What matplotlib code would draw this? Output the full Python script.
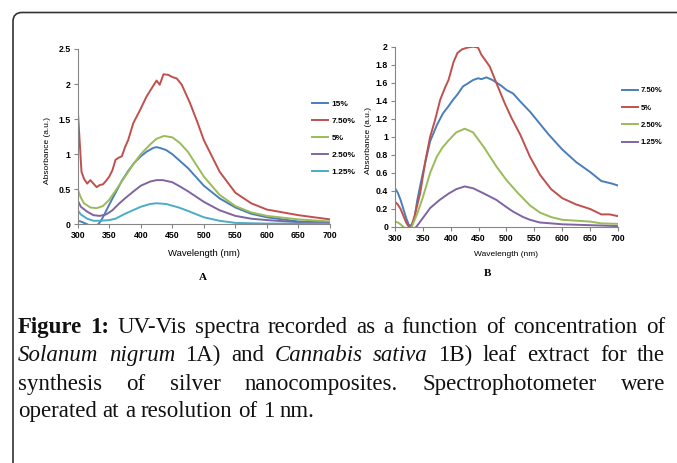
import numpy as np
import matplotlib.pyplot as plt
from matplotlib.patches import FancyBboxPatch
from matplotlib.transforms import IdentityTransform
from matplotlib.ticker import FuncFormatter

# Panel A: Solanum nigrum leaf extract
a_labels = ['15%', '7.50%', '5%', '2.50%', '1.25%']
a_wl_15 = [300, 305, 310, 315, 322, 333, 340, 350, 360, 370, 380, 390, 400, 410, 420, 425, 430,
           440, 450, 460, 475, 500, 525, 550, 575, 600, 650, 700]
a_15 = [0.05, 0.04, 0.02, 0.0, -0.03, 0.0, 0.1, 0.28, 0.45, 0.62, 0.76, 0.88, 0.97, 1.04, 1.09,
        1.1, 1.09, 1.06, 1.0, 0.92, 0.8, 0.55, 0.37, 0.24, 0.15, 0.1, 0.04, 0.02]
a_wl_75 = [300, 303, 306, 310, 315, 320, 325, 330, 335, 340, 345, 350, 355, 360, 365, 370, 375,
           380, 388, 400, 409, 418, 425, 430, 436, 444, 450, 457, 465, 478, 490, 500,
           525, 550, 575, 600, 625, 650, 675, 700]
a_75 = [1.65, 1.2, 0.75, 0.65, 0.58, 0.63, 0.58, 0.53, 0.56, 0.57, 0.62, 0.68, 0.77, 0.92, 0.95,
        0.97, 1.1, 1.2, 1.44, 1.65, 1.82, 1.95, 2.05, 1.99, 2.14, 2.13, 2.1, 2.08, 1.99, 1.73,
        1.45, 1.2, 0.75, 0.45, 0.3, 0.21, 0.17, 0.13, 0.1, 0.07]
a_wl_5 = [300, 305, 310, 320, 330, 340, 350, 360, 375, 390, 400, 415, 425, 437, 450, 462, 475,
          490, 500, 525, 550, 575, 600, 650, 700]
a_5 = [0.5, 0.38, 0.3, 0.24, 0.23, 0.26, 0.35, 0.48, 0.68, 0.88, 1.0, 1.14, 1.22, 1.26, 1.24,
       1.16, 1.03, 0.82, 0.68, 0.42, 0.26, 0.17, 0.12, 0.07, 0.04]
a_wl_25 = [300, 305, 315, 325, 335, 345, 355, 365, 375, 390, 400, 415, 425, 435, 450, 462, 475,
           500, 525, 550, 575, 600, 650, 700]
a_25 = [0.34, 0.25, 0.18, 0.13, 0.12, 0.14, 0.2, 0.29, 0.37, 0.48, 0.55, 0.61, 0.63, 0.63, 0.6,
        0.54, 0.47, 0.32, 0.2, 0.12, 0.08, 0.06, 0.03, 0.02]
a_wl_125 = [300, 305, 315, 325, 335, 350, 360, 375, 390, 400, 415, 425, 440, 460, 475, 500, 525,
            550, 600, 700]
a_125 = [0.2, 0.14, 0.08, 0.05, 0.05, 0.06, 0.08, 0.15, 0.21, 0.25, 0.29, 0.3, 0.29, 0.24, 0.19,
         0.1, 0.05, 0.02, 0.01, 0.01]

# Panel B: Cannabis sativa leaf extract
b_labels = ['7.50%', '5%', '2.50%', '1.25%']
b_wl_75 = [300, 305, 310, 320, 325, 330, 335, 340, 350, 363, 375, 386, 396, 404, 412, 422, 430,
           440, 449, 455, 464, 475, 490, 500, 512, 525, 542, 550, 575, 600, 625, 650, 670, 690,
           700]
b_75 = [0.43, 0.38, 0.3, 0.1, 0.02, 0.02, 0.1, 0.3, 0.6, 0.95, 1.13, 1.26, 1.34, 1.41, 1.47,
        1.56, 1.59, 1.63, 1.65, 1.64, 1.66, 1.63, 1.57, 1.52, 1.48, 1.39, 1.28, 1.22, 1.03, 0.86,
        0.72, 0.61, 0.51, 0.48, 0.46]
b_wl_5 = [300, 305, 310, 320, 325, 330, 335, 345, 355, 363, 372, 381, 390, 396, 405, 412, 420,
          430, 440, 449, 455, 462, 470, 481, 497, 509, 525, 542, 560, 580, 600, 625, 650, 670,
          685, 700]
b_5 = [0.28, 0.25, 0.2, 0.05, 0.0, 0.02, 0.12, 0.37, 0.75, 1.0, 1.19, 1.41, 1.55, 1.63, 1.83,
       1.93, 1.97, 1.99, 2.0, 1.99, 1.91, 1.85, 1.78, 1.61, 1.37, 1.21, 1.02, 0.78, 0.58, 0.42,
       0.32, 0.25, 0.2, 0.14, 0.14, 0.12]
b_wl_25 = [300, 305, 310, 315, 322, 330, 340, 350, 363, 375, 385, 396, 410, 425, 440, 460, 482,
           500, 520, 542, 560, 580, 600, 625, 650, 670, 700]
b_25 = [0.06, 0.05, 0.03, 0.0, -0.03, 0.0, 0.15, 0.33, 0.6, 0.78, 0.88, 0.96, 1.05, 1.09, 1.05,
        0.88, 0.67, 0.52, 0.38, 0.24, 0.16, 0.11, 0.08, 0.07, 0.06, 0.04, 0.035]
b_wl_125 = [330, 338, 350, 363, 380, 396, 410, 425, 440, 460, 482, 500, 512, 530, 542, 560, 600,
            650, 700]
b_125 = [-0.03, 0.0, 0.1, 0.21, 0.3, 0.37, 0.42, 0.45, 0.43, 0.37, 0.3, 0.22, 0.17, 0.11, 0.08,
         0.05, 0.03, 0.02, 0.01]

xticks = [300, 350, 400, 450, 500, 550, 600, 650, 700]

blue, red, green, purple, cyan = '#4A7EBB', '#C0504D', '#9BBB59', '#8064A2', '#4BACC6'

plt.rcParams['font.family'] = ['Liberation Sans', 'DejaVu Sans']
plt.rcParams['font.weight'] = 'bold'

W, H = 677, 463
fig = plt.figure(figsize=(W / 100, H / 100), dpi=100)


def fx(px):
    return px / W


def fy(py):
    return 1 - py / H


def style_axes(ax, ymax, ystep):
    for s in ['top', 'right']:
        ax.spines[s].set_visible(False)
    for s in ['left', 'bottom']:
        ax.spines[s].set_color('#868686')
        ax.spines[s].set_linewidth(0.8)
    ax.set_xlim(300, 700)
    ax.set_ylim(0, ymax)
    ax.set_xticks(xticks)
    ax.set_yticks(np.arange(0, ymax + ystep / 2, ystep))
    ax.yaxis.set_major_formatter(FuncFormatter(lambda v, p: '%g' % round(v, 2)))
    ax.tick_params(direction='out', length=3, width=0.8, color='#868686',
                   labelsize=6.3, pad=2)


# ---- panel A
axA = fig.add_axes([fx(77.7), fy(224.3), fx(330 - 77.7), (224.3 - 49) / H])
for wl, v, c, lab in zip([a_wl_15, a_wl_75, a_wl_5, a_wl_25, a_wl_125],
                         [a_15, a_75, a_5, a_25, a_125],
                         [blue, red, green, purple, cyan], a_labels):
    axA.plot(wl, v, color=c, lw=1.4, label=lab)
style_axes(axA, 2.5, 0.5)
axA.set_xlabel('Wavelength (nm)', fontsize=6.8, va='center')
axA.xaxis.set_label_coords(0.5, -0.169)
axA.set_ylabel('Absorbance (a.u.)', fontsize=6, va='center')
axA.yaxis.set_label_coords(-0.118, 0.42)
axA.legend(loc='upper left', bbox_to_anchor=(fx(312), fy(100)), bbox_transform=fig.transFigure,
           frameon=False, fontsize=6, borderpad=0, borderaxespad=0, handlelength=1.9,
           handletextpad=0.45, labelspacing=1.1)

# ---- panel B
axB = fig.add_axes([fx(395), fy(227), fx(618 - 395), (227 - 46.7) / H])
for wl, v, c, lab in zip([b_wl_75, b_wl_5, b_wl_25, b_wl_125],
                         [b_75, b_5, b_25, b_125],
                         [blue, red, green, purple], b_labels):
    axB.plot(wl, v, color=c, lw=1.4, label=lab)
style_axes(axB, 2.0, 0.2)
axB.set_xlabel('Wavelength (nm)', fontsize=6, va='center')
axB.xaxis.set_label_coords(0.5, -0.155)
axB.set_ylabel('Absorbance (a.u.)', fontsize=6, va='center')
axB.yaxis.set_label_coords(-0.117, 0.48)
axB.legend(loc='upper left', bbox_to_anchor=(fx(622), fy(87)), bbox_transform=fig.transFigure,
           frameon=False, fontsize=5.5, borderpad=0, borderaxespad=0, handlelength=2.1,
           handletextpad=0.3, labelspacing=1.3)

fig.text(fx(203), fy(278), 'A', family='Liberation Serif', weight='bold', fontsize=8,
         ha='center', va='center')
fig.text(fx(487), fy(273), 'B', family='Liberation Serif', weight='bold', fontsize=8,
         ha='center', va='center')

# ---- frame round the figure (only top and left edges visible)
frame = FancyBboxPatch((13, -40), 720, H - 12.5 + 40, boxstyle='round,pad=0,rounding_size=9',
                       transform=IdentityTransform(), facecolor='none', edgecolor='#333333',
                       lw=1.2)
fig.add_artist(frame)

# ---- justified caption
cap_size = 16.5
cap_lines = [
    ([('Figure', 'bold'), ('1:', 'bold'), ('UV-Vis', 'normal'), ('spectra', 'normal'),
      ('recorded', 'normal'), ('as', 'normal'), ('a', 'normal'), ('function', 'normal'),
      ('of', 'normal'), ('concentration', 'normal'), ('of', 'normal')], True),
    ([('Solanum', 'italic'), ('nigrum', 'italic'), ('1A)', 'normal'), ('and', 'normal'),
      ('Cannabis', 'italic'), ('sativa', 'italic'), ('1B)', 'normal'), ('leaf', 'normal'),
      ('extract', 'normal'), ('for', 'normal'), ('the', 'normal')], True),
    ([('synthesis', 'normal'), ('of', 'normal'), ('silver', 'normal'),
      ('nanocomposites.', 'normal'), ('Spectrophotometer', 'normal'), ('were', 'normal')], True),
    ([('operated', 'normal'), ('at', 'normal'), ('a', 'normal'), ('resolution', 'normal'),
      ('of', 'normal'), ('1', 'normal'), ('nm.', 'normal')], False),
]
baselines = [333, 361, 390, 417]
x_left, x_right = 18, 665

renderer = fig.canvas.get_renderer()
space = 0.25 * cap_size * 100 / 72
for (words, justify), yb in zip(cap_lines, baselines):
    texts = []
    for w, st in words:
        t = fig.text(0, fy(yb), w, family='Liberation Serif', fontsize=cap_size,
                     weight='bold' if st == 'bold' else 'normal',
                     style='italic' if st == 'italic' else 'normal',
                     va='baseline', ha='left', color='#111111')
        texts.append(t)
    widths = [t.get_window_extent(renderer).width for t in texts]
    if justify:
        gap = (x_right - x_left - sum(widths)) / (len(texts) - 1)
    else:
        gap = space
    x = x_left
    for t, w in zip(texts, widths):
        t.set_x(fx(x))
        x += w + gap

fig.savefig('out.png', dpi=100)
